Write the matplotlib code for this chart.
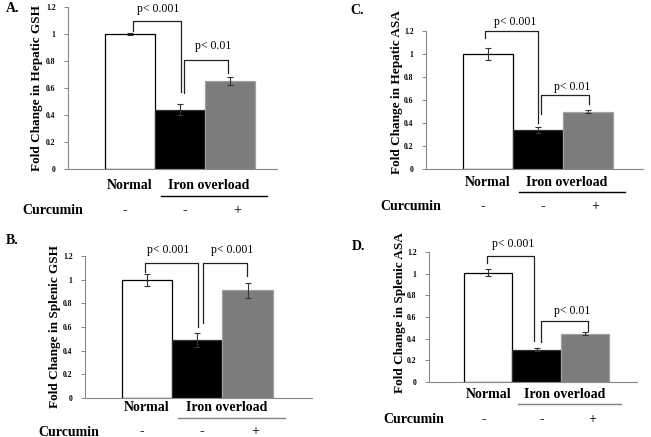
import matplotlib
matplotlib.use("Agg")
import matplotlib.pyplot as plt
import numpy as np

plt.rcParams["font.family"] = ["Liberation Serif", "DejaVu Serif"]

groups = ["Normal", "Iron overload", "Iron overload + Curcumin"]
curcumin_signs = ["-", "-", "+"]

panel_letters = ["A.", "B.", "C.", "D."]
ylabels = ["Fold Change in Hepatic GSH", "Fold Change in Splenic GSH",
           "Fold Change in Hepatic ASA", "Fold Change in Splenic ASA"]

hep_gsh = [1.00, 0.44, 0.65]
hep_gsh_err = [0.01, 0.04, 0.03]
spl_gsh = [1.00, 0.49, 0.91]
spl_gsh_err = [0.05, 0.06, 0.065]
hep_asa = [1.00, 0.34, 0.50]
hep_asa_err = [0.05, 0.025, 0.01]
spl_asa = [1.01, 0.30, 0.445]
spl_asa_err = [0.03, 0.01, 0.015]

values = [hep_gsh, spl_gsh, hep_asa, spl_asa]
errors = [hep_gsh_err, spl_gsh_err, hep_asa_err, spl_asa_err]

# p-value labels per panel (Normal vs Iron, Iron vs Iron+Curcumin)
p_labels = [["p< 0.001", "p< 0.01"],
            ["p< 0.001", "p< 0.001"],
            ["p< 0.001", "p< 0.01"],
            ["p< 0.001", "p< 0.01"]]

W, H = 651, 437
fig = plt.figure(figsize=(W / 100, H / 100), dpi=100)
fig.patch.set_facecolor("white")


def fx(px):
    return px / W


def fy(py):
    return 1 - py / H


# layout in pixels: axes box (left, top, right, bottom), xlim
layout = [
    dict(box=(68, 7, 277, 169), xlim=(-1.24, 2.94), letter=(13, 8), ylab=(37, 88),
         rows=(16.5, 27, 42), uline="black"),
    dict(box=(85, 256, 312, 398), xlim=(-1.23, 3.28), letter=(12, 240), ylab=(55, 327),
         rows=(9.5, 19.5, 34), uline="#808080"),
    dict(box=(426, 31, 643, 169), xlim=(-1.24, 3.11), letter=(357, 10), ylab=(397, 92),
         rows=(13, 23, 37.5), uline="black"),
    dict(box=(429, 252, 637, 382), xlim=(-1.23, 3.08), letter=(358, 247), ylab=(400, 313),
         rows=(12, 21.7, 37.7), uline="#808080"),
]

# brackets: (x1, x2, top, left bottom, right bottom), label (x, y)
brackets = [
    [((0.06, 1.02, 1.096, 1.02, 0.57), (0.56, 1.185)),
     ((1.08, 1.96, 0.81, 0.56, 0.71), (1.66, 0.91))],
    [((-0.04, 1.01, 1.14, 1.065, 0.60), (0.42, 1.25)),
     ((1.11, 1.99, 1.14, 0.63, 1.035), (1.69, 1.25))],
    [((-0.05, 1.00, 1.20, 1.136, 0.40), (0.55, 1.28)),
     ((1.07, 2.03, 0.645, 0.477, 0.566), (1.68, 0.71))],
    [((-0.03, 0.95, 1.16, 1.10, 0.38), (0.51, 1.276)),
     ((1.09, 2.06, 0.565, 0.37, 0.474), (1.74, 0.657))],
]

bar_face = ["white", "black", "#7c7c7c"]
bar_edge = ["black", "#333333", "#a0a0a0"]

for i in range(4):
    lay = layout[i]
    l, t, r, b = lay["box"]
    ax = fig.add_axes([fx(l), fy(b), fx(r - l), (b - t) / H])
    x = np.arange(len(groups))
    ax.bar(x, values[i], width=1.0, color=bar_face, edgecolor=bar_edge,
           linewidth=0.9, zorder=2)
    ax.errorbar(x, values[i], yerr=errors[i], fmt="none", ecolor="#333333",
                elinewidth=0.8, capsize=2, capthick=0.8, zorder=3)
    ax.set_xlim(*lay["xlim"])
    ax.set_ylim(0, 1.2)
    ax.set_yticks([0, 0.2, 0.4, 0.6, 0.8, 1.0, 1.2])
    ax.set_yticklabels(["0", "0.2", "0.4", "0.6", "0.8", "1", "1.2"],
                       fontsize=5.5, fontweight="bold")
    ax.set_xticks([])
    ax.tick_params(axis="y", direction="out", length=3, width=0.7,
                   color="#888888", pad=6)
    for s in ["top", "right"]:
        ax.spines[s].set_visible(False)
    for s in ["left", "bottom"]:
        ax.spines[s].set_color("#888888")
        ax.spines[s].set_linewidth(0.8)

    # significance brackets
    for (x1, x2, top, lb, rb), (tx, ty) in brackets[i]:
        ax.plot([x1, x1, x2, x2], [lb, top, top, rb], color="#222222",
                linewidth=0.9, clip_on=False, zorder=4)
    for (br, (tx, ty)), lab in zip(brackets[i], p_labels[i]):
        ax.text(tx, ty, lab, ha="center", va="center", fontsize=8.5,
                clip_on=False)

    # group labels beneath the axis
    ah = b - t
    d_lab, d_line, d_cur = lay["rows"]
    trans = ax.get_xaxis_transform()
    ax.text(0, -d_lab / ah, groups[0], transform=trans, ha="center",
            va="center", fontsize=10, fontweight="bold")
    ax.text(1.58, -d_lab / ah, groups[1], transform=trans, ha="center",
            va="center", fontsize=10, fontweight="bold")
    ax.plot([0.62, 2.74], [-d_line / ah, -d_line / ah], transform=trans,
            color=lay["uline"], linewidth=1.0, clip_on=False)
    ax.text(-1.55, -d_cur / ah, "Curcumin", transform=trans, ha="center",
            va="center", fontsize=10, fontweight="bold")
    for xs, sign in zip([-0.1, 1.1, 2.15], curcumin_signs):
        ax.text(xs, -d_cur / ah, sign, transform=trans, ha="center",
                va="center", fontsize=10, fontweight="bold" if sign == "-" else "normal")

    fig.text(fx(lay["ylab"][0]), fy(lay["ylab"][1]), ylabels[i], rotation=90,
             ha="center", va="center", fontsize=9.5, fontweight="bold")
    fig.text(fx(lay["letter"][0]), fy(lay["letter"][1]), panel_letters[i],
             ha="center", va="center", fontsize=10, fontweight="bold")

fig.savefig("out.png", dpi=100)
